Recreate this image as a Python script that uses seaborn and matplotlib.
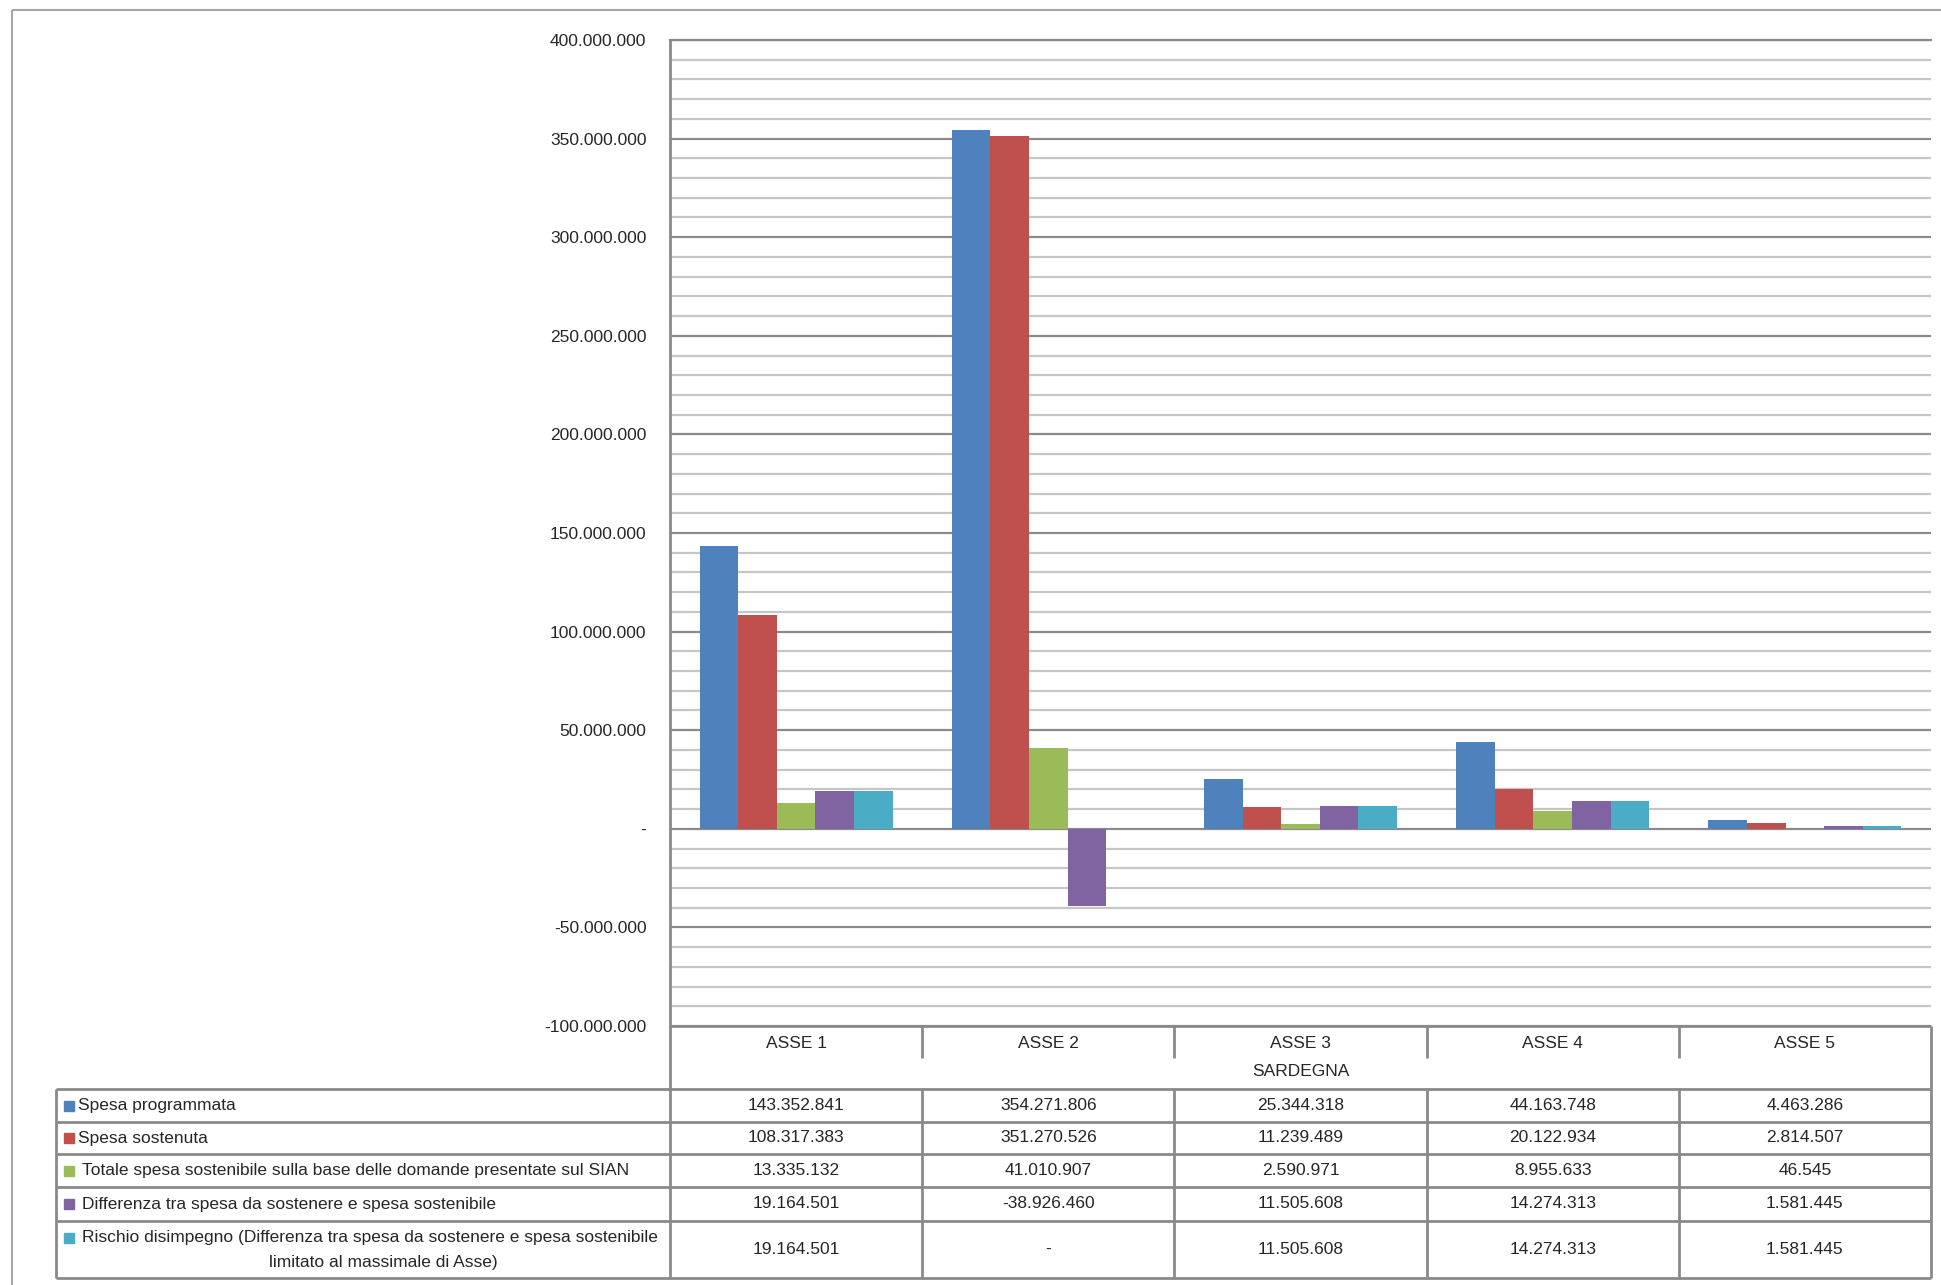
import numpy as np
import pandas as pd
import seaborn as sns
import matplotlib.pyplot as plt
from matplotlib.lines import Line2D
from matplotlib.patches import Rectangle

# data
assi = ["ASSE 1", "ASSE 2", "ASSE 3", "ASSE 4", "ASSE 5"]
serie = [
    "Spesa programmata",
    "Spesa sostenuta",
    "Totale spesa sostenibile sulla base delle domande presentate sul SIAN",
    "Differenza tra spesa da sostenere e spesa sostenibile",
    "Rischio disimpegno (Differenza tra spesa da sostenere e spesa sostenibile\nlimitato al massimale di Asse)",
]
spesa_programmata = [143352841, 354271806, 25344318, 44163748, 4463286]
spesa_sostenuta = [108317383, 351270526, 11239489, 20122934, 2814507]
totale_sostenibile = [13335132, 41010907, 2590971, 8955633, 46545]
differenza = [19164501, -38926460, 11505608, 14274313, 1581445]
rischio_disimpegno = [19164501, 0, 11505608, 14274313, 1581445]
colori = ["#4F81BD", "#C0504D", "#9BBB59", "#8064A2", "#4BACC6"]

valori = [spesa_programmata, spesa_sostenuta, totale_sostenibile, differenza, rischio_disimpegno]
df = pd.DataFrame(
    [(a, s, v[i]) for s, v in zip(serie, valori) for i, a in enumerate(assi)],
    columns=["asse", "serie", "valore"],
)


def fmt(v):
    if v == 0:
        return "-"
    return f"{v:,.0f}".replace(",", ".")


sns.set_style("white")
plt.rcParams["font.family"] = ["Liberation Sans Narrow", "Liberation Sans", "DejaVu Sans"]

W, H = 1941, 1285
fig = plt.figure(figsize=(W / 100, H / 100), dpi=100)
fig.patch.set_facecolor("white")

# plot area in pixels
x0, x1, y_top, y_bot = 670, 1931, 40, 1026
ax = fig.add_axes([x0 / W, 1 - y_bot / H, (x1 - x0) / W, (y_bot - y_top) / H])

sns.barplot(data=df, x="asse", y="valore", hue="serie", palette=colori,
            width=0.765, saturation=1, legend=False, ax=ax, linewidth=0)

ax.set_ylim(-100_000_000, 400_000_000)
ax.set_xlim(-0.5, len(assi) - 0.5)
ax.set_yticks(np.arange(-100_000_000, 400_000_001, 50_000_000))
ax.set_yticks(np.arange(-100_000_000, 400_000_001, 10_000_000), minor=True)
ax.set_yticklabels([fmt(v) for v in ax.get_yticks()], fontsize=12.5)
ax.tick_params(axis="y", which="both", length=0, pad=17)
ax.set_xticks([])
ax.set_xlabel("")
ax.set_ylabel("")
ax.set_axisbelow(True)
ax.grid(axis="y", which="minor", color="#C6C6C6", lw=1.6)
ax.grid(axis="y", which="major", color="#8A8A8A", lw=1.6)
for s in ["right", "bottom"]:
    ax.spines[s].set_visible(False)
ax.spines["top"].set_color("#8A8A8A")
ax.spines["top"].set_linewidth(1.6)
ax.spines["left"].set_color("#8A8A8A")
ax.spines["left"].set_linewidth(2)

# table under the chart, drawn in pixel coordinates
tab = fig.add_axes([0, 0, 1, 1])
tab.set_xlim(0, W)
tab.set_ylim(H, 0)
tab.axis("off")
tab.patch.set_alpha(0)

grigio = "#8A8A8A"
lw = 2
t_left = 56
righe = [1089, 1122, 1154, 1187, 1221, 1278]
col_w = (x1 - x0) / len(assi)
bordi = [x0 + k * col_w for k in range(len(assi) + 1)]


def linea(xs, ys, c=grigio, w=lw):
    tab.add_line(Line2D(xs, ys, color=c, lw=w, solid_capstyle="butt"))


# outer chart frame
linea([12, W], [10, 10], "#A6A6A6", 1.5)
linea([12, 12], [10, H], "#A6A6A6", 1.5)

linea([x0, x1], [y_bot, y_bot])
linea([x0, x0], [y_bot, righe[-1]])
linea([x1, x1], [y_bot, righe[-1]])
for b in bordi[1:-1]:
    linea([b, b], [y_bot, 1058])
    linea([b, b], [righe[0], righe[-1]])
for r in righe:
    linea([t_left, x1], [r, r])
linea([t_left, t_left], [righe[0], righe[-1]])

for k, a in enumerate(assi):
    tab.text((bordi[k] + bordi[k + 1]) / 2, 1043, a, ha="center", va="center", fontsize=12.5)
tab.text((x0 + x1) / 2, 1072, "SARDEGNA", ha="center", va="center", fontsize=12.5)

etichette_tab = [[fmt(v) for v in vals] for vals in valori]
etichette_tab[4][1] = "-"
for i, (s, c) in enumerate(zip(serie, colori)):
    ym = (righe[i] + righe[i + 1]) / 2
    if "\n" in s:
        l1, l2 = s.split("\n")
        tab.add_patch(Rectangle((64, ym - 17), 10, 10, color=c))
        tab.text(82, ym - 12, l1, ha="left", va="center", fontsize=12.5)
        tab.text((t_left + x0) / 2 + 20, ym + 13, l2, ha="center", va="center", fontsize=12.5)
    else:
        tab.add_patch(Rectangle((64, ym - 5), 10, 10, color=c))
        tab.text(82 if i >= 2 else 78, ym, s, ha="left", va="center", fontsize=12.5)
    for k in range(len(assi)):
        tab.text((bordi[k] + bordi[k + 1]) / 2, ym, etichette_tab[i][k],
                 ha="center", va="center", fontsize=12.5)

fig.savefig("out.png", dpi=100)
